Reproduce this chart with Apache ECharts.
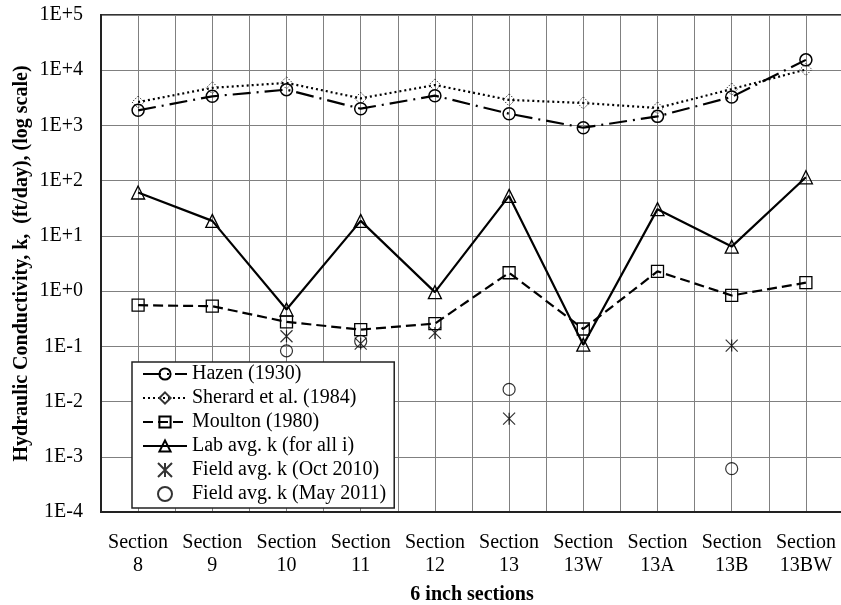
<!DOCTYPE html>
<html>
<head>
<meta charset="utf-8">
<script src="https://cdn.jsdelivr.net/npm/echarts@6/dist/echarts.min.js"></script>
<style>
html,body{margin:0;padding:0;background:#fff;}
#chart{width:841px;height:605px;}
</style>
</head>
<body>
<div id="chart"></div>
<script>
const categories = ['Section\n8','Section\n9','Section\n10','Section\n11','Section\n12','Section\n13','Section\n13W','Section\n13A','Section\n13B','Section\n13BW'];
const hazen   = [1880, 3370, 4450, 2010, 3460, 1630, 910, 1460, 3280, 15400];
const sherard = [2650, 4800, 5900, 3100, 5400, 2900, 2550, 2070, 4550, 10300];
const moulton = [0.556, 0.533, 0.277, 0.201, 0.258, 2.15, 0.206, 2.28, 0.834, 1.42];
const lab     = [61, 18.7, 0.464, 18.7, 0.96, 53, 0.107, 30.5, 6.4, 115];
const fieldOct = ['-', '-', 0.152, 0.112, 0.175, 0.0049, '-', '-', 0.103, '-'];
const fieldMay = ['-', '-', 0.083, 0.123, '-', 0.0166, '-', '-', 0.00061, '-'];
const yTickLabels = ['1E-4','1E-3','1E-2','1E-1','1E+0','1E+1','1E+2','1E+3','1E+4','1E+5'];

const FONT = 'Liberation Serif';
const chart = echarts.init(document.getElementById('chart'), null, {renderer: 'canvas'});
const hollow = 'rgba(0,0,0,0)';

chart.setOption({
  animation: false,
  backgroundColor: '#fff',
  textStyle: {fontFamily: FONT, color: '#000'},
  grid: {left: 101, top: 15, right: -2, bottom: 93, show: true, borderColor: '#333', borderWidth: 2,
         containLabel: false, outerBoundsMode: 'none'},
  legend: {
    orient: 'vertical', left: 132, top: 362,
    backgroundColor: '#fff', borderColor: '#222', borderWidth: 1.5,
    padding: [2, 8, 4, 10], itemGap: 4, itemWidth: 44, itemHeight: 14,
    textStyle: {fontFamily: FONT, fontSize: 20, color: '#000', lineHeight: 20},
    data: ['Hazen (1930)', 'Sherard et al. (1984)', 'Moulton (1980)', 'Lab avg. k (for all i)', 'Field avg. k (Oct 2010)', 'Field avg. k (May 2011)']
  },
  xAxis: [{
    type: 'category', data: categories, boundaryGap: true,
    name: '6 inch sections', nameLocation: 'middle', nameGap: 73,
    nameTextStyle: {fontFamily: FONT, fontSize: 20, fontWeight: 'bold', color: '#000'},
    axisLine: {show: true, lineStyle: {color: '#222', width: 2}},
    axisTick: {show: false},
    axisLabel: {fontFamily: FONT, fontSize: 20, color: '#000', lineHeight: 23, margin: 19, interval: 0},
    splitLine: {show: false}
  }, {
    type: 'value', min: -0.5, max: 9.5, interval: 0.5, position: 'bottom',
    axisLine: {show: false, onZero: false}, axisTick: {show: false}, axisLabel: {show: false},
    splitLine: {show: true, lineStyle: {color: '#808080', width: 1}}
  }],
  yAxis: {
    type: 'log', logBase: 10, min: 1e-4, max: 1e5, splitNumber: 9,
    name: 'Hydraulic Conductivity, k,  (ft/day), (log scale)', nameLocation: 'middle', nameGap: 69,
    nameMoveOverlap: false,
    nameTextStyle: {fontFamily: FONT, fontSize: 20, fontWeight: 'bold', color: '#000'},
    axisLine: {show: true, onZero: false, lineStyle: {color: '#222', width: 2}},
    axisTick: {show: false},
    axisLabel: {
      fontFamily: FONT, fontSize: 20, color: '#000', margin: 18,
      formatter: function (v) { const e = Math.round(Math.log10(v)); return yTickLabels[e + 4] || ''; }
    },
    minorTick: {show: false},
    splitLine: {show: true, lineStyle: {color: '#808080', width: 1}}
  },
  series: [
    {
      name: 'Hazen (1930)', type: 'line', data: hazen, xAxisIndex: 0,
      symbol: 'circle', symbolSize: 12, showAllSymbol: true,
      lineStyle: {color: '#000', width: 2.2, type: [18, 6, 2, 6]},
      itemStyle: {color: hollow, borderColor: '#000', borderWidth: 1.5},
      z: 3
    },
    {
      name: 'Sherard et al. (1984)', type: 'line', data: sherard, xAxisIndex: 0,
      symbol: 'diamond', symbolSize: 12, showAllSymbol: true,
      lineStyle: {color: '#000', width: 2.2, type: [2, 3]},
      itemStyle: {color: hollow, borderColor: '#333', borderWidth: 1, borderType: [1.5, 1.5]},
      z: 3
    },
    {
      name: 'Moulton (1980)', type: 'line', data: moulton, xAxisIndex: 0,
      symbol: 'rect', symbolSize: 12, showAllSymbol: true,
      lineStyle: {color: '#000', width: 2.2, type: [10, 5]},
      itemStyle: {color: hollow, borderColor: '#000', borderWidth: 1.3},
      z: 3
    },
    {
      name: 'Lab avg. k (for all i)', type: 'line', data: lab, xAxisIndex: 0,
      symbol: 'triangle', symbolSize: 13, showAllSymbol: true,
      lineStyle: {color: '#000', width: 2.2, type: 'solid'},
      itemStyle: {color: hollow, borderColor: '#000', borderWidth: 1.3},
      z: 3
    },
    {
      name: 'Field avg. k (Oct 2010)', type: 'scatter', data: fieldOct, xAxisIndex: 0,
      symbol: 'path://M0,0L10,10M10,0L0,10M5,0L5,10', symbolSize: 12, symbolKeepAspect: true,
      itemStyle: {color: hollow, borderColor: '#000', borderWidth: 1.2},
      z: 4
    },
    {
      name: 'Field avg. k (May 2011)', type: 'scatter', data: fieldMay, xAxisIndex: 0,
      symbol: 'circle', symbolSize: 12,
      itemStyle: {color: hollow, borderColor: '#000', borderWidth: 1.2},
      z: 4
    }
  ]
});
</script>
</body>
</html>
